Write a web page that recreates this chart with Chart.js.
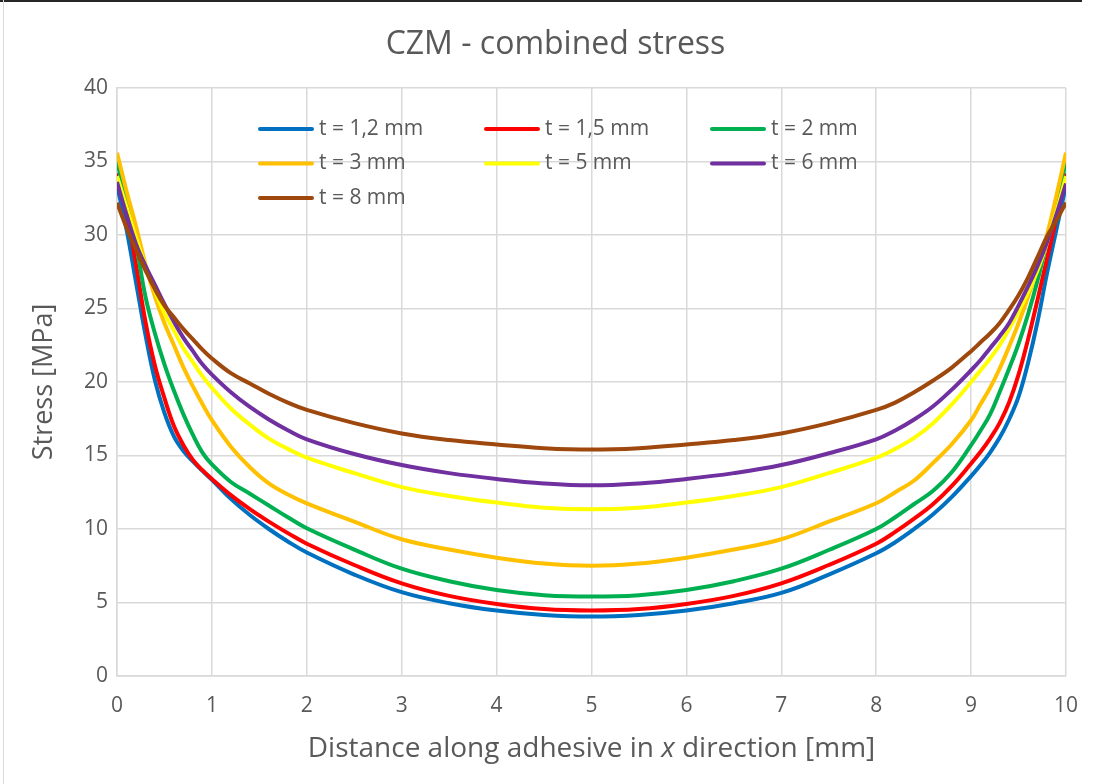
<!DOCTYPE html>
<html>
<head>
<meta charset="utf-8">
<title>CZM - combined stress</title>
<script src="https://cdn.jsdelivr.net/npm/chart.js@4.4.1/dist/chart.umd.min.js"></script>
<style>
  html, body { margin: 0; padding: 0; background: #fff; }
  #wrap { position: relative; width: 1097px; height: 784px; }
  #frame-top { position: absolute; left: 0; top: 0; width: 1082px; height: 2px; background: #262626; }
  #frame-left { position: absolute; left: 3px; top: 0; width: 1px; height: 784px; background: #d9d9d9; }
</style>
</head>
<body>
<div id="wrap">
  <canvas id="chart"></canvas>
  <div id="frame-top"></div>
  <div id="frame-left"></div>
</div>
<script>
// x positions along the bond line [mm]
const distance = [0, 0.1, 0.2, 0.3, 0.4, 0.5, 0.6, 0.7, 0.8, 0.9, 1, 1.2, 1.4, 1.6, 1.8, 2, 2.5, 3, 3.5, 4, 4.5, 5,
  5.5, 6, 6.5, 7, 7.5, 8, 8.2, 8.4, 8.6, 8.8, 9, 9.1, 9.2, 9.3, 9.4, 9.5, 9.6, 9.7, 9.8, 9.9, 10];

// combined stress [MPa] for each adhesive thickness
const stressT1_2 = [33.4, 30.4, 26.8, 23.2, 20.1, 17.9, 16.3, 15.3, 14.6, 13.95, 13.35, 12.05, 10.95, 10.0, 9.15, 8.4, 6.9, 5.7, 4.95, 4.45, 4.15, 4.04,
  4.15, 4.45, 4.95, 5.65, 6.9, 8.35, 9.1, 10.0, 11.0, 12.2, 13.6, 14.35, 15.2, 16.2, 17.45, 19.0, 21.3, 24.1, 27.4, 30.4, 33.4];
const stressT1_5 = [34.2, 31.6, 28.0, 24.1, 21.1, 18.9, 17.0, 15.7, 14.7, 14.0, 13.4, 12.3, 11.35, 10.5, 9.72, 9.0, 7.55, 6.3, 5.45, 4.9, 4.55, 4.45,
  4.55, 4.9, 5.45, 6.3, 7.55, 9.0, 9.8, 10.7, 11.7, 12.95, 14.45, 15.25, 16.15, 17.2, 18.6, 20.5, 22.9, 25.6, 28.4, 31.2, 34.2];
const stressT2 = [35.0, 32.3, 29.4, 25.8, 23.3, 21.2, 19.4, 17.8, 16.4, 15.2, 14.4, 13.2, 12.4, 11.6, 10.8, 10.05, 8.6, 7.3, 6.45, 5.85, 5.5, 5.4,
  5.5, 5.85, 6.45, 7.3, 8.57, 10.0, 10.8, 11.7, 12.6, 13.9, 15.7, 16.7, 17.8, 19.3, 20.9, 22.6, 24.6, 26.9, 29.6, 32.3, 35.0];
const stressT3 = [35.6, 33.0, 30.6, 28.0, 25.8, 24.0, 22.5, 21.0, 19.7, 18.5, 17.4, 15.6, 14.2, 13.1, 12.35, 11.75, 10.5, 9.3, 8.6, 8.05, 7.65, 7.5,
  7.65, 8.05, 8.6, 9.3, 10.5, 11.75, 12.5, 13.3, 14.5, 15.8, 17.4, 18.5, 19.6, 20.9, 22.4, 24.0, 25.8, 27.8, 30.0, 32.7, 35.6];
const stressT5 = [34.0, 31.9, 29.8, 27.9, 26.2, 24.7, 23.5, 22.3, 21.35, 20.4, 19.6, 18.2, 17.1, 16.15, 15.45, 14.85, 13.8, 12.85, 12.25, 11.8, 11.45, 11.34,
  11.45, 11.8, 12.25, 12.85, 13.8, 14.85, 15.45, 16.2, 17.2, 18.5, 20.0, 20.8, 21.6, 22.5, 23.6, 24.8, 26.1, 27.6, 29.5, 31.6, 34.0];
const stressT6 = [33.6, 31.4, 29.4, 27.9, 26.6, 25.3, 24.1, 23.0, 22.1, 21.2, 20.5, 19.3, 18.3, 17.45, 16.72, 16.1, 15.1, 14.35, 13.8, 13.4, 13.1, 12.97,
  13.1, 13.4, 13.8, 14.35, 15.15, 16.1, 16.7, 17.45, 18.35, 19.5, 20.8, 21.5, 22.3, 23.1, 24.0, 25.2, 26.5, 27.9, 29.5, 31.4, 33.5];
const stressT8 = [32.2, 30.5, 29.0, 27.6, 26.3, 25.2, 24.4, 23.6, 22.9, 22.2, 21.6, 20.6, 19.9, 19.2, 18.6, 18.1, 17.2, 16.5, 16.05, 15.75, 15.5, 15.4,
  15.5, 15.75, 16.05, 16.5, 17.2, 18.1, 18.6, 19.3, 20.1, 21.0, 22.1, 22.7, 23.3, 24.0, 24.9, 25.9, 27.1, 28.5, 29.9, 31.0, 32.2];

const seriesLabels = ["t = 1,2 mm", "t = 1,5 mm", "t = 2 mm", "t = 3 mm", "t = 5 mm", "t = 6 mm", "t = 8 mm"];
const seriesValues = [stressT1_2, stressT1_5, stressT2, stressT3, stressT5, stressT6, stressT8];
const seriesColors = ["#0070C0", "#FF0000", "#00B050", "#FFC000", "#FFFF00", "#7030A0", "#9E480E"];

const chartTitle = "CZM - combined stress";
const yTitle = "Stress [MPa]";
const xTitleParts = [
  { text: "Distance along adhesive in ", italic: false },
  { text: "x", italic: true },
  { text: " direction [mm]", italic: false },
];

const textColor = "#595959";
const gridColor = "#d9d9d9";
const fontFamily = "'Open Sans', sans-serif";

Chart.defaults.font.family = fontFamily;
Chart.defaults.color = textColor;

// legend drawn inside the plot area as a 3-column grid
const gridLegend = {
  id: "gridLegend",
  afterDatasetsDraw(chart) {
    const { ctx, chartArea } = chart;
    ctx.save();
    ctx.font = `21px ${fontFamily}`;
    ctx.textBaseline = "middle";
    ctx.textAlign = "left";
    chart.data.datasets.forEach((ds, i) => {
      const x = chartArea.left + 143 + (i % 3) * 226;
      const y = chartArea.top + 41 + Math.floor(i / 3) * 34.5;
      ctx.strokeStyle = ds.borderColor;
      ctx.lineWidth = 4;
      ctx.lineCap = "round";
      ctx.beginPath();
      ctx.moveTo(x, y);
      ctx.lineTo(x + 52, y);
      ctx.stroke();
      ctx.fillStyle = textColor;
      ctx.fillText(ds.label, x + 59, y);
    });
    ctx.restore();
  },
};

// x axis title with the italic "x"
const xAxisTitle = {
  id: "xAxisTitle",
  afterDraw(chart) {
    const { ctx, chartArea } = chart;
    const size = 28;
    ctx.save();
    ctx.fillStyle = textColor;
    ctx.textBaseline = "middle";
    ctx.textAlign = "left";
    const fontFor = (p) => `${p.italic ? "italic " : ""}${size}px ${fontFamily}`;
    let total = 0;
    xTitleParts.forEach((p) => {
      ctx.font = fontFor(p);
      total += ctx.measureText(p.text).width;
    });
    let x = (chartArea.left + chartArea.right) / 2 - total / 2;
    const y = chartArea.bottom + 73;
    xTitleParts.forEach((p) => {
      ctx.font = fontFor(p);
      ctx.fillText(p.text, x, y);
      x += ctx.measureText(p.text).width;
    });
    ctx.restore();
  },
};

const datasets = seriesLabels.map((label, i) => ({
  label: label,
  data: distance.map((x, k) => ({ x: x, y: seriesValues[i][k] })),
  borderColor: seriesColors[i],
  backgroundColor: seriesColors[i],
  borderWidth: 4,
  pointRadius: 0,
  tension: 0.4,
  order: seriesLabels.length - i,
}));

new Chart(document.getElementById("chart"), {
  type: "line",
  data: { datasets: datasets },
  plugins: [gridLegend, xAxisTitle],
  options: {
    responsive: true,
    maintainAspectRatio: false,
    animation: false,
    layout: { padding: { left: 14, right: 0, top: 0, bottom: 0 } },
    plugins: {
      legend: { display: false },
      tooltip: { enabled: false },
      title: {
        display: true,
        text: chartTitle,
        color: textColor,
        font: { size: 32, weight: "normal" },
        padding: { top: 26, bottom: 23.6 },
      },
    },
    scales: {
      x: {
        type: "linear",
        min: 0,
        max: 10,
        ticks: { stepSize: 1, color: textColor, font: { size: 21 }, padding: 17, maxRotation: 0 },
        grid: { color: gridColor, lineWidth: 1.5, drawTicks: false },
        border: { color: gridColor, width: 1.5 },
        afterFit: (scale) => { scale.height = 108; },
      },
      y: {
        min: 0,
        max: 40,
        ticks: { stepSize: 5, color: textColor, font: { size: 21 }, padding: 9 },
        grid: { color: gridColor, lineWidth: 1.5, drawTicks: false },
        border: { color: gridColor, width: 1.5 },
        title: {
          display: true,
          text: yTitle,
          color: textColor,
          font: { size: 27 },
          padding: { top: 14, bottom: 0 },
        },
        afterFit: (scale) => { scale.width = 103; },
      },
      // empty right-hand margin beside the plot
      yRight: {
        type: "linear",
        position: "right",
        min: 0,
        max: 40,
        ticks: { display: false },
        grid: { display: false },
        border: { display: false },
        afterFit: (scale) => { scale.width = 31; },
      },
    },
  },
});
</script>
</body>
</html>
